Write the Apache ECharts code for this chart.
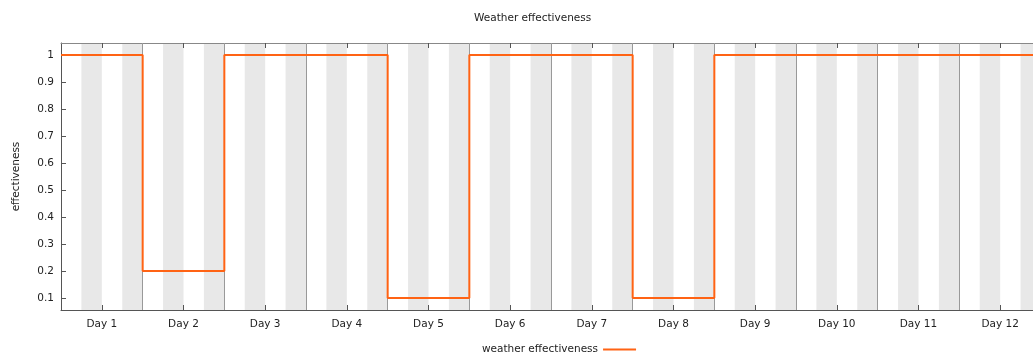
<!DOCTYPE html>
<html>
<head>
<meta charset="utf-8">
<script src="https://cdn.jsdelivr.net/npm/echarts@6/dist/echarts.min.js"></script>
<style>html,body{margin:0;padding:0;background:#fff;overflow:hidden}#c{width:1050px;height:356px}</style>
</head>
<body>
<div id="c"></div>
<script>
var days = ['Day 1','Day 2','Day 3','Day 4','Day 5','Day 6','Day 7','Day 8','Day 9','Day 10','Day 11','Day 12'];
var effectiveness = [1, 0.2, 1, 1, 0.1, 1, 1, 0.1, 1, 1, 1, 1];
var yTicks = [0.1, 0.2, 0.3, 0.4, 0.5, 0.6, 0.7, 0.8, 0.9, 1];

var stepData = effectiveness.map(function (v, i) { return [i, v]; });
stepData.push([days.length, effectiveness[effectiveness.length - 1]]);

var centers = days.map(function (d, i) { return i + 0.5; });
var bands = [];
var bounds = [];
for (var i = 0; i < days.length; i++) {
  bands.push([{ xAxis: i + 0.25 }, { xAxis: i + 0.5 }]);
  bands.push([{ xAxis: i + 0.75 }, { xAxis: i + 1 }]);
  if (i > 0) bounds.push({ xAxis: i });
}
var font = 'DejaVu Sans';
var fs = 10.5;
var chart = echarts.init(document.getElementById('c'));
chart.setOption({
  animation: false,
  textStyle: { fontFamily: font },
  title: {
    text: 'Weather effectiveness', left: 469, top: 8,
    textStyle: { fontFamily: font, fontSize: fs, fontWeight: 'normal', color: '#222' }
  },
  legend: {
    left: 477, top: 339, align: 'right', itemWidth: 33, itemHeight: 2, itemGap: 0,
    textStyle: { fontFamily: font, fontSize: fs, color: '#222', padding: [0, 0, 0, 0] },
    data: [{ name: 'weather effectiveness', icon: 'rect' }]
  },
  grid: { left: 61, top: 43, height: 267, width: 980, containLabel: false },
  xAxis: [{
    type: 'value', min: 0, max: days.length, interval: 1, position: 'bottom', z: 3,
    axisLine: { show: true, onZero: false, lineStyle: { color: '#555', width: 1 } },
    axisTick: { show: true, inside: true, length: 5, customValues: centers, lineStyle: { color: '#555' } },
    axisLabel: {
      customValues: centers, margin: 9, fontFamily: font, fontSize: fs, color: '#222',
      formatter: function (v) { return days[Math.round(v - 0.5)]; }
    },
    splitLine: { show: false }
  }, {
    type: 'value', min: 0, max: days.length, interval: 1, position: 'top', z: 3,
    axisLine: { show: true, onZero: false, lineStyle: { color: '#888', width: 1 } },
    axisTick: { show: true, inside: true, length: 5, customValues: centers, lineStyle: { color: '#555' } },
    axisLabel: { show: false },
    splitLine: { show: false }
  }],
  yAxis: {
    type: 'value', min: 0.0556, max: 1.0444, z: 3,
    name: 'effectiveness', nameLocation: 'middle', nameGap: 39, nameRotate: 90,
    nameTextStyle: { fontFamily: font, fontSize: fs, color: '#222' },
    axisLine: { show: true, onZero: false, lineStyle: { color: '#555', width: 1 } },
    axisTick: { show: true, inside: true, length: 5, customValues: yTicks, lineStyle: { color: '#555' } },
    axisLabel: { customValues: yTicks, margin: 7, fontFamily: font, fontSize: fs, color: '#222' },
    splitLine: { show: false }
  },
  series: [{
    name: 'bands', type: 'line', data: [], z: 1, silent: true,
    markArea: { silent: true, itemStyle: { color: '#e8e8e8' }, data: bands },
    markLine: {
      silent: true, symbol: 'none', label: { show: false },
      lineStyle: { color: '#999', width: 1, type: 'solid' }, data: bounds
    }
  }, {
    name: 'weather effectiveness', type: 'line', step: 'end', data: stepData, z: 5,
    symbol: 'none', lineStyle: { color: '#ff6314', width: 2 }, itemStyle: { color: '#ff6314' }
  }]
});
</script>
</body>
</html>
